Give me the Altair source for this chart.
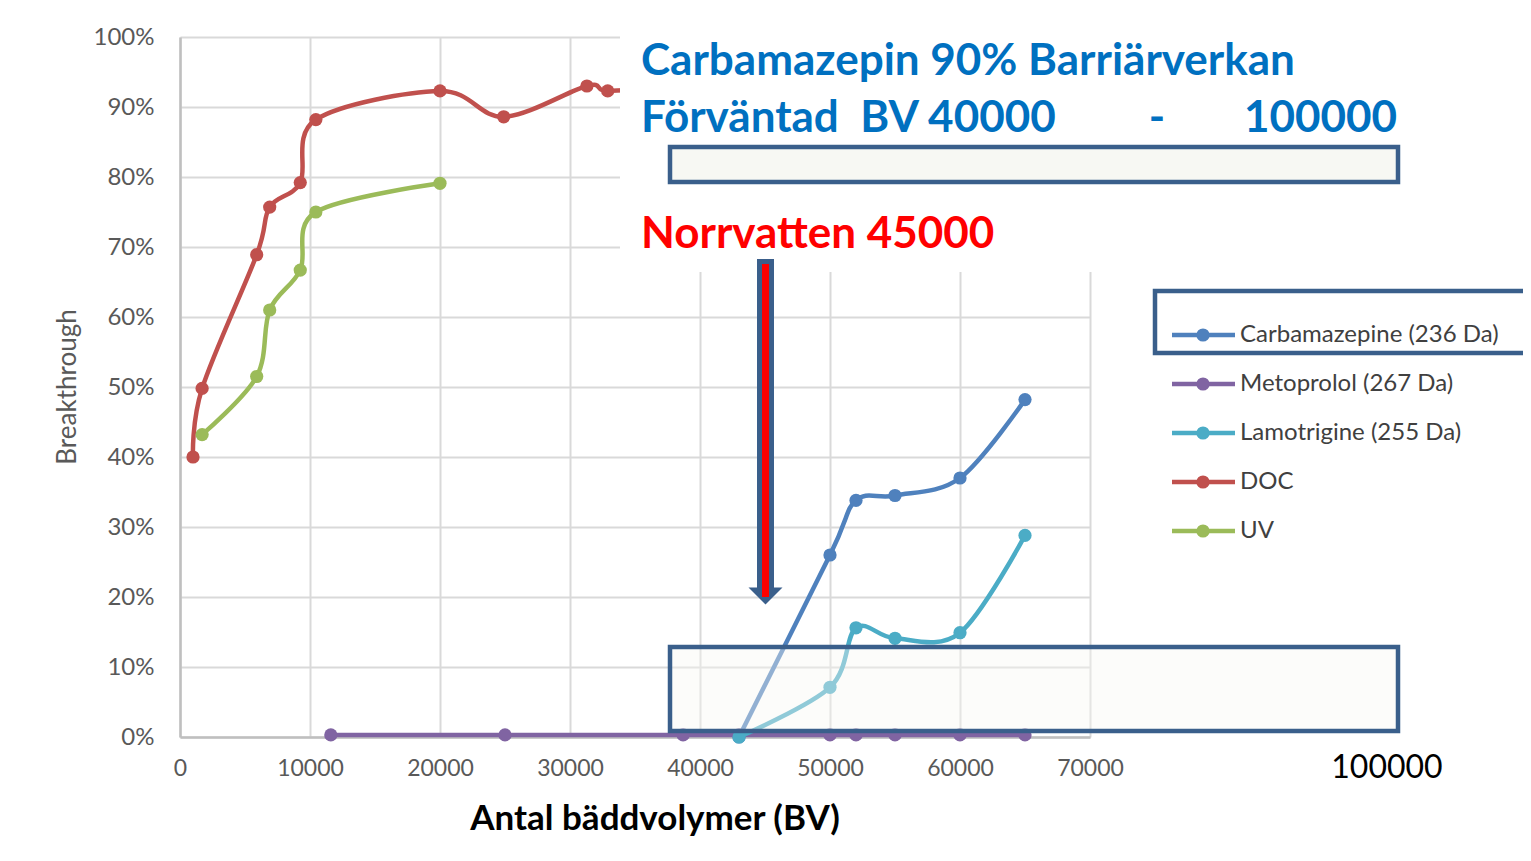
import altair as alt
import pandas as pd

# ---------------- data ----------------
carb_x = [43000, 50000, 52000, 55000, 60000, 65000]
carb_y = [0.0, 0.26, 0.338, 0.345, 0.37, 0.482]

meto_x = [11600, 25000, 38700, 43000, 50000, 52000, 55000, 60000, 65000]
meto_y = [0.003, 0.003, 0.003, 0.003, 0.003, 0.003, 0.003, 0.003, 0.003]

lamo_x = [43000, 50000, 52000, 55000, 60000, 65000]
lamo_y = [0.0, 0.071, 0.156, 0.141, 0.149, 0.288]

doc_x = [1000, 1700, 5900, 6900, 9250, 10450, 20000, 24900, 31300, 32900, 38000]
doc_y = [0.40, 0.498, 0.689, 0.757, 0.792, 0.882, 0.923, 0.886, 0.930, 0.923, 0.93]

uv_x = [1700, 5900, 6900, 9250, 10450, 20000]
uv_y = [0.432, 0.515, 0.61, 0.667, 0.75, 0.791]

series_names = ["Carbamazepine (236 Da)", "Metoprolol (267 Da)",
                "Lamotrigine (255 Da)", "DOC", "UV"]
series_colors = ["#4F81BD", "#8064A2", "#4BACC6", "#C0504D", "#9BBB59"]
series_x = [carb_x, meto_x, lamo_x, doc_x, uv_x]
series_y = [carb_y, meto_y, lamo_y, doc_y, uv_y]

x_ticks = [0, 10000, 20000, 30000, 40000, 50000, 60000, 70000]
y_ticks = [0, 0.1, 0.2, 0.3, 0.4, 0.5, 0.6, 0.7, 0.8, 0.9, 1.0]

title1 = "Carbamazepin 90% Barriärverkan"
title2a = "Förväntad\u00a0\u00a0BV 40000"
title2b = "-"
title2c = "100000"
title3 = "Norrvatten 45000"
x_title = "Antal bäddvolymer (BV)"
y_title = "Breakthrough"
extra_label = "100000"

FONT = "Lato"
BOX = "#3A5F8B"
BOXFILL = "#F7F8F3"

one = alt.Data(values=[{}])

x_enc = alt.X("bv:Q", scale=alt.Scale(domain=[0, 70000], nice=False, zero=False),
              axis=alt.Axis(values=x_ticks, format="d", title=None, labelPadding=20,
                            tickSize=0, ticks=False, labelFlush=False, labelFontSize=23))
y_enc = alt.Y("bt:Q", scale=alt.Scale(domain=[0, 1], nice=False, zero=False),
              axis=alt.Axis(values=y_ticks, format=".0%", title=None, labelPadding=26,
                            tickSize=0, ticks=False, labelFlush=False, labelFontSize=24))

layers = []
for name, col, xs, ys in zip(series_names, series_colors, series_x, series_y):
    df = pd.DataFrame({"bv": xs, "bt": ys, "serie": name})
    base = alt.Chart(df)
    layers.append(base.mark_line(color=col, strokeWidth=4.5, interpolate="cardinal")
                  .encode(x=x_enc, y=y_enc))
    layers.append(base.mark_point(color=col, filled=True, opacity=1, size=175)
                  .encode(x=x_enc, y=y_enc))

def rect(x, x2, y, y2, **kw):
    return alt.Chart(one).mark_rect(**kw).encode(
        x=alt.value(x), x2=alt.value(x2), y=alt.value(y), y2=alt.value(y2))

def text(t, x, y, **kw):
    return alt.Chart(one).mark_text(text=t, font=FONT, baseline="alphabetic", **kw).encode(
        x=alt.value(x), y=alt.value(y))

# white overlay covering upper right part of the chart
layers.append(rect(440, 1360, -40, 235, fill="white", stroke=None))

# texts of the slide
layers.append(text(title1, 461, 38, fontSize=44, fontWeight="bold", color="#0070C0", align="left"))
layers.append(text(title2a, 461, 95, fontSize=44, fontWeight="bold", color="#0070C0", align="left"))
layers.append(text(title2b, 977, 95, fontSize=44, fontWeight="bold", color="#0070C0", align="center"))
layers.append(text(title2c, 1217, 95, fontSize=44, fontWeight="bold", color="#0070C0", align="right"))
layers.append(text(title3, 461, 211, fontSize=44, fontWeight="bold", color="#FF0000", align="left"))

# top box
layers.append(rect(490, 1218, 110, 145, fill=BOXFILL, stroke=BOX, strokeWidth=4.5))

# arrow
layers.append(rect(577, 594, 222, 551, fill=BOX, stroke=None))
layers.append(alt.Chart(one).mark_point(
    shape="M-1,-0.5L1,-0.5L0,0.5Z", size=34 * 34, filled=True, opacity=1, color=BOX
).encode(x=alt.value(585.5), y=alt.value(559)))
layers.append(rect(582, 589, 227, 560, fill="#FF0000", stroke=None))

# lower box (semi transparent)
layers.append(rect(490, 1218, 610, 694, fill=BOXFILL, fillOpacity=0.4, stroke=BOX, strokeWidth=4.5))

# extra label and axis titles
layers.append(text(extra_label, 1207, 741, fontSize=32, color="black", align="center"))
layers.append(text(x_title, 475, 793, fontSize=35, fontWeight="bold", color="black", align="center"))
layers.append(alt.Chart(one).mark_text(text=y_title, font=FONT, fontSize=26, color="#595959",
                                       angle=270, align="center", baseline="middle")
              .encode(x=alt.value(-112), y=alt.value(350)))

# legend
layers.append(rect(975, 1370, 254, 316, fill="white", fillOpacity=0, stroke=BOX, strokeWidth=4.5))
leg_y = [298, 347, 396, 445, 494]
for name, col, ly in zip(series_names, series_colors, leg_y):
    layers.append(alt.Chart(one).mark_rule(color=col, strokeWidth=4.5)
                  .encode(x=alt.value(992), x2=alt.value(1055), y=alt.value(ly)))
    layers.append(alt.Chart(one).mark_point(color=col, filled=True, opacity=1, size=175)
                  .encode(x=alt.value(1023), y=alt.value(ly)))
    layers.append(alt.Chart(one).mark_text(text=name, font=FONT, fontSize=24, color="#404040",
                                           align="left", baseline="middle")
                  .encode(x=alt.value(1060), y=alt.value(ly)))

chart = alt.layer(*layers).properties(
    width=910, height=700,
    autosize=alt.AutoSizeParams(type="none"),
    padding={"left": 172, "top": 29, "right": 433, "bottom": 116},
    background="white",
).configure_view(stroke=None).configure_axis(
    labelFont=FONT, labelColor="#595959",
    gridColor="#D9D9D9", gridWidth=2,
    domainColor="#BFBFBF", domainWidth=2.5,
)

chart.save("out.html", embed_options={"renderer": "svg", "actions": False})
